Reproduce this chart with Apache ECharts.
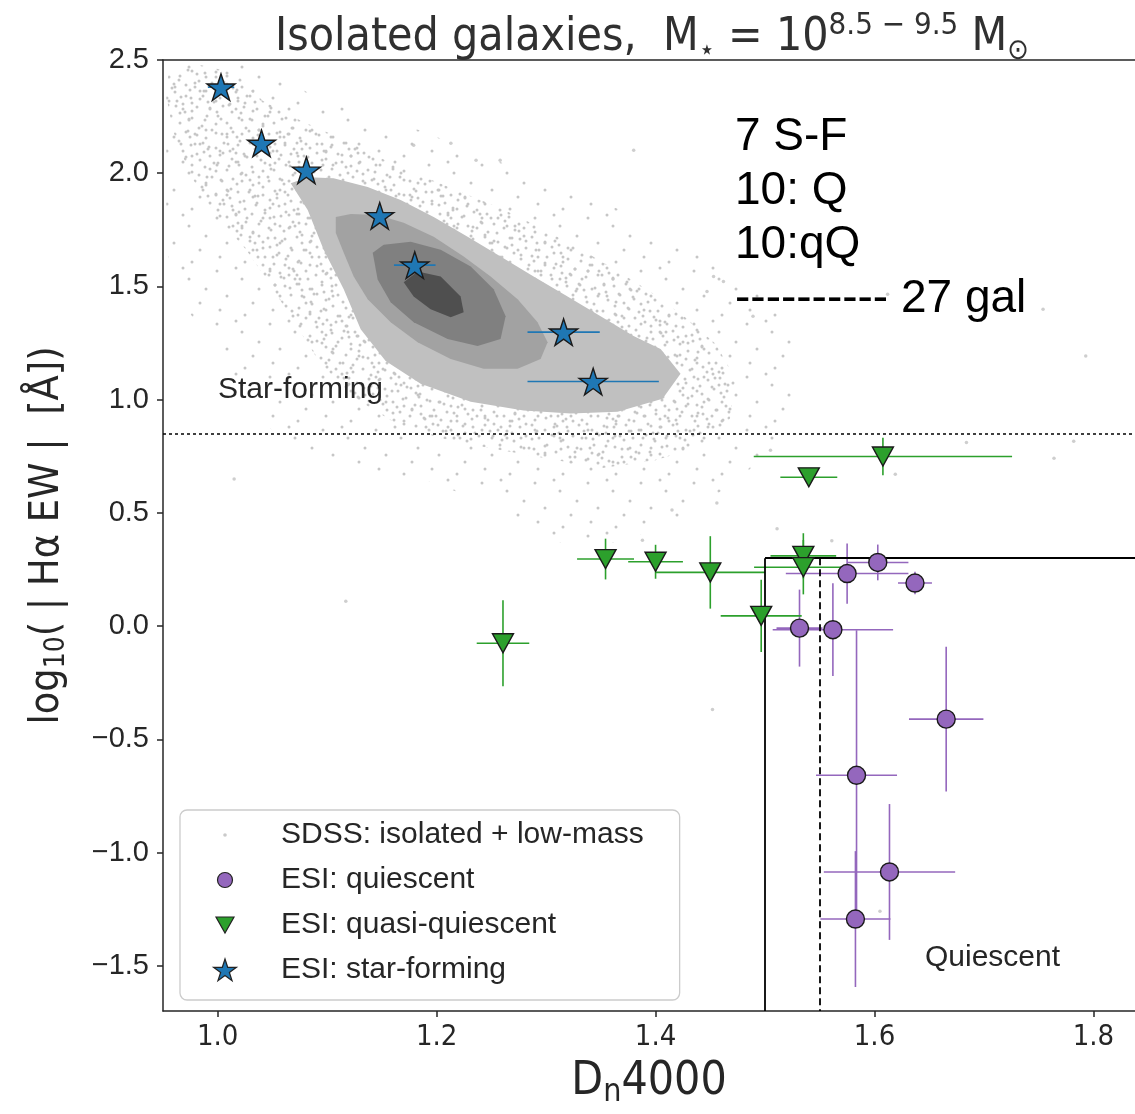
<!DOCTYPE html>
<html><head><meta charset="utf-8">
<script src="https://cdn.jsdelivr.net/npm/echarts@6/dist/echarts.min.js"></script>
<style>html,body{margin:0;padding:0;background:#fff}#c{width:1135px;height:1114px}</style>
</head><body><div id="c"></div>
<script>
// ---------------- data ----------------
const xTicks = [1.0, 1.2, 1.4, 1.6, 1.8];
const yTicks = [-1.5, -1.0, -0.5, 0.0, 0.5, 1.0, 1.5, 2.0, 2.5];
const xMin = 0.95, xMax = 1.838, yMin = -1.7, yMax = 2.5;

// ESI star-forming
const sfX    = [1.003, 1.040, 1.081, 1.148, 1.180, 1.316, 1.343];
const sfY    = [2.380, 2.132, 2.013, 1.812, 1.594, 1.298, 1.080];
const sfXerr = [0.012, 0, 0, 0, 0.019, 0.033, 0.060];
const sfYerr = [0, 0, 0, 0, 0, 0, 0];

// ESI quiescent
const qX    = [1.5315, 1.562, 1.575, 1.603, 1.637, 1.6655, 1.5836, 1.6137, 1.5826];
const qY    = [-0.009, -0.016, 0.232, 0.281, 0.190, -0.411, -0.659, -1.086, -1.294];
const qXerr = [0.021, 0.055, 0.056, 0.028, 0.0155, 0.034, 0.037, 0.060, 0.032];
const qYerr = [0.17, 0.205, 0.133, 0.079, 0.05, 0.32, 0.64, 0.30, 0.30];

// ESI quasi-quiescent
const qqX    = [1.2606, 1.3543, 1.400, 1.450, 1.4965, 1.535, 1.535, 1.540, 1.6077];
const qqY    = [-0.076, 0.296, 0.284, 0.237, 0.045, 0.310, 0.260, 0.657, 0.749];
const qqXerr = [0.024, 0.026, 0.025, 0.050, 0.037, 0.030, 0.045, 0.026, 0.118];
const qqYerr = [0.19, 0.09, 0.075, 0.16, 0.16, 0.10, 0.12, 0.0, 0.083];

// SDSS isolated low-mass: scattered outliers
const sdssX = [1.453, 1.462, 1.447, 1.489, 1.612, 1.754, 1.380, 1.213, 1.179, 1.258, 1.236, 1.764, 1.782, 1.684, 1.505, 1.619, 1.511, 1.452, 1.117, 1.015, 1.605, 1.793, 1.561, 1.388, 1.415, 1.456];
const sdssY = [1.544, 1.522, 1.478, 1.368, 1.465, 1.399, 2.101, 2.132, 2.123, 2.057, 2.057, 0.741, 0.816, 0.811, 0.776, 0.671, 0.430, -0.368, 0.110, 0.649, -1.259, 1.193, 0.377, 0.379, 0.513, 0.544];

// SDSS point-cloud envelopes (sparse and dense dot regions)
const haloSparseX = [0.953, 1.039, 1.094, 1.185, 1.277, 1.368, 1.441, 1.505, 1.532, 1.523, 1.478, 1.423, 1.368, 1.313, 1.258, 1.185, 1.112, 1.048, 1.003, 0.966, 0.953];
const haloSparseY = [2.487, 2.487, 2.320, 2.189, 2.013, 1.838, 1.662, 1.443, 1.180, 0.873, 0.654, 0.478, 0.368, 0.368, 0.522, 0.654, 0.697, 0.873, 1.180, 1.443, 1.662];
const haloDenseX = [0.955, 0.984, 1.016, 1.041, 1.076, 1.117, 1.153, 1.185, 1.222, 1.258, 1.295, 1.332, 1.363, 1.395, 1.427, 1.455, 1.473, 1.468, 1.441, 1.400, 1.350, 1.300, 1.249, 1.204, 1.163, 1.126, 1.094, 1.071, 1.048, 1.026, 0.998, 0.975, 0.959, 0.953];
const haloDenseY = [2.443, 2.478, 2.443, 2.320, 2.232, 2.145, 2.057, 1.991, 1.917, 1.846, 1.759, 1.662, 1.575, 1.478, 1.364, 1.246, 1.092, 0.917, 0.794, 0.732, 0.697, 0.741, 0.785, 0.829, 0.895, 1.004, 1.158, 1.333, 1.509, 1.662, 1.816, 1.991, 2.189, 2.342];

// SDSS density contours (outer -> inner)
const c1X = [1.0667, 1.0822, 1.1059, 1.1370, 1.1671, 1.1973, 1.2283, 1.2584, 1.2886, 1.3196, 1.3498, 1.3799, 1.4046, 1.4228, 1.4064, 1.3653, 1.3224, 1.2795, 1.2311, 1.1854, 1.1534, 1.1306, 1.1151, 1.0968, 1.0822];
const c1Y = [1.956, 1.982, 1.978, 1.939, 1.882, 1.807, 1.719, 1.632, 1.544, 1.456, 1.368, 1.281, 1.224, 1.114, 1.004, 0.947, 0.939, 0.952, 0.991, 1.070, 1.171, 1.311, 1.487, 1.662, 1.838];
const c2X = [1.1078, 1.1215, 1.1461, 1.1699, 1.1973, 1.2247, 1.2493, 1.2740, 1.2922, 1.3014, 1.2950, 1.2740, 1.2429, 1.2128, 1.1826, 1.1580, 1.1370, 1.1242, 1.1151, 1.1078];
const c2Y = [1.807, 1.820, 1.816, 1.781, 1.719, 1.632, 1.544, 1.443, 1.342, 1.254, 1.180, 1.136, 1.136, 1.180, 1.254, 1.342, 1.443, 1.544, 1.649, 1.737];
const c3X = [1.1416, 1.1516, 1.1763, 1.2037, 1.2311, 1.2521, 1.2630, 1.2584, 1.2374, 1.2100, 1.1790, 1.1580, 1.1461];
const c3Y = [1.649, 1.684, 1.697, 1.662, 1.588, 1.487, 1.368, 1.268, 1.237, 1.268, 1.342, 1.430, 1.531];
const c4X = [1.1699, 1.1826, 1.2037, 1.2219, 1.2247, 1.2128, 1.1945, 1.1790];
const c4Y = [1.518, 1.566, 1.544, 1.456, 1.386, 1.364, 1.399, 1.456];

// reference lines
const sfThreshold = 0.85;        // horizontal dotted line
const qBoxX = 1.5, qBoxY = 0.3;  // quiescent box corner
const dnCut = 1.55;              // dashed vertical

// ---------------- style ----------------
const INK = '#262626';
const COL = {sf: '#1f77b4', q: '#9467bd', qq: '#2ca02c', sdss: '#c2c2c2'};
const COND = '"DejaVu Sans Condensed", "DejaVu Sans", sans-serif';
const ARIAL = '"Liberation Sans", Arial, sans-serif';
const STAR = 'path://M50,0L61.23,34.55L97.55,34.55L68.16,55.9L79.39,90.45L50,69.1L20.61,90.45L31.84,55.9L2.45,34.55L38.77,34.55Z';

// stipple textures standing in for the thousands of SDSS dots
function dotPattern(size, pts, r, color) {
  const cv = document.createElement('canvas');
  cv.width = size; cv.height = size;
  const ctx = cv.getContext('2d');
  ctx.fillStyle = color;
  pts.forEach(p => { ctx.beginPath(); ctx.arc(p[0], p[1], r, 0, Math.PI * 2); ctx.fill(); });
  return {image: cv, repeat: 'repeat'};
}
const densePatA = dotPattern(47, [[3,4],[15,2],[28,7],[40,3],[9,13],[22,15],[35,12],[44,18],[4,24],[17,26],[30,22],[39,29],[11,34],[24,36],[34,40],[45,38],[2,43],[18,44],[28,30],[7,40],[42,10],[20,8]], 1.5, '#c6c6c6');
const densePatB = dotPattern(61, [[5,9],[19,4],[33,11],[48,6],[57,19],[12,22],[26,25],[41,21],[53,31],[3,35],[17,38],[31,41],[46,44],[58,52],[9,50],[24,55],[38,58],[50,27],[14,13],[37,33],[27,47],[44,12],[6,58],[55,40],[21,30]], 1.5, '#c6c6c6');
const sparsePat = dotPattern(53, [[5,6],[30,14],[15,31],[41,38],[24,3],[8,45],[47,24],[33,50]], 1.5, '#c6c6c6');

function polySeries(xs, ys, fill, z) {
  return {
    type: 'custom', silent: true, z: z, animation: false,
    data: xs.map((x, i) => [x, ys[i]]),
    renderItem: function (params, api) {
      if (params.dataIndex !== 0) return null;
      const pts = xs.map((x, i) => api.coord([x, ys[i]]));
      return {type: 'polygon', shape: {points: pts}, style: {fill: fill}};
    }
  };
}

function errSeries(xs, ys, xe, ye, color) {
  return {
    type: 'custom', silent: true, z: 4, animation: false,
    data: xs.map((x, i) => [x, ys[i], xe[i], ye[i]]),
    encode: {x: 0, y: 1},
    renderItem: function (params, api) {
      const x = api.value(0), y = api.value(1), dx = api.value(2), dy = api.value(3);
      const ch = [];
      if (dx > 0) {
        const a = api.coord([x - dx, y]), b = api.coord([x + dx, y]);
        ch.push({type: 'line', shape: {x1: a[0], y1: a[1], x2: b[0], y2: b[1]}, style: {stroke: color, lineWidth: 1.6}});
      }
      if (dy > 0) {
        const a = api.coord([x, y + dy]), b = api.coord([x, y - dy]);
        ch.push({type: 'line', shape: {x1: a[0], y1: a[1], x2: b[0], y2: b[1]}, style: {stroke: color, lineWidth: 1.6}});
      }
      return {type: 'group', children: ch};
    }
  };
}

function svgIcon(inner) {
  return 'image://data:image/svg+xml;charset=utf-8,' + encodeURIComponent(
    "<svg xmlns='http://www.w3.org/2000/svg' width='96' height='30' viewBox='0 0 96 30'>" + inner + "</svg>");
}
const iconSdss = svgIcon("<circle cx='45' cy='15' r='1.8' fill='#bdbdbd'/>");
const iconQ = svgIcon("<circle cx='45' cy='15' r='7.5' fill='#9467bd' stroke='#222' stroke-width='1.2'/>");
const iconQQ = svgIcon("<polygon points='36,7 54,7 45,23' fill='#2ca02c' stroke='#222' stroke-width='1.2'/>");
const iconSF = svgIcon("<polygon points='45,4 47.69,12.29 56.41,12.29 49.36,17.42 52.05,25.71 45,20.58 37.95,25.71 40.64,17.42 33.59,12.29 42.31,12.29' fill='#1f77b4' stroke='#222' stroke-width='1.2'/>");

const axisLineStyle = {color: INK, width: 1.5};

const option = {
  animation: false,
  backgroundColor: '#fff',
  title: {
    text: '{a|Isolated galaxies,  M}{s|⋆}{a| = 10}{p|8.5 − 9.5}{a| M}{s|⊙}',
    left: 647, top: 5, textAlign: 'center',
    textStyle: {
      fontWeight: 'normal',
      rich: {
        a: {fontFamily: COND, fontWeight: 'normal', fontSize: 46, color: '#303030', lineHeight: 56, verticalAlign: 'middle'},
        s: {fontFamily: COND, fontWeight: 'normal', fontSize: 29, color: '#303030', lineHeight: 29, verticalAlign: 'bottom'},
        p: {fontFamily: COND, fontWeight: 'normal', fontSize: 31, color: '#303030', lineHeight: 31, verticalAlign: 'top'}
      }
    }
  },
  grid: {left: 163, top: 60, right: 0, bottom: 97, containLabel: false},
  legend: {
    orient: 'vertical', left: 180, top: 810,
    padding: [10, 36, 15, 0],
    itemWidth: 96, itemHeight: 30, itemGap: 15,
    backgroundColor: 'rgba(255,255,255,0.85)',
    borderColor: '#cccccc', borderWidth: 1.3, borderRadius: 7,
    textStyle: {fontFamily: ARIAL, fontSize: 30, color: INK, lineHeight: 30},
    data: [
      {name: 'SDSS: isolated + low-mass', icon: iconSdss},
      {name: 'ESI: quiescent', icon: iconQ},
      {name: 'ESI: quasi-quiescent', icon: iconQQ},
      {name: 'ESI: star-forming', icon: iconSF}
    ]
  },
  xAxis: [{
    type: 'value', min: xMin, max: xMax, position: 'bottom',
    axisLine: {show: true, onZero: false, lineStyle: axisLineStyle},
    axisTick: {show: true, customValues: xTicks, length: 6, lineStyle: axisLineStyle},
    axisLabel: {customValues: xTicks, formatter: v => v.toFixed(1), fontFamily: COND, fontSize: 29, color: INK, margin: 12},
    splitLine: {show: false},
    name: '{a|D}{s|n}{a|4000}', nameLocation: 'middle', nameGap: 44,
    nameTextStyle: {rich: {
      a: {fontFamily: COND, fontSize: 46, color: INK, lineHeight: 54, verticalAlign: 'middle'},
      s: {fontFamily: COND, fontSize: 32, color: INK, lineHeight: 30, verticalAlign: 'bottom'}
    }}
  }, {
    type: 'value', min: xMin, max: xMax, position: 'top',
    axisLine: {show: true, onZero: false, lineStyle: axisLineStyle},
    axisTick: {show: false}, axisLabel: {show: false}, splitLine: {show: false}
  }],
  yAxis: {
    type: 'value', min: yMin, max: yMax,
    axisLine: {show: true, onZero: false, lineStyle: axisLineStyle},
    axisTick: {show: true, customValues: yTicks, length: 6, lineStyle: axisLineStyle},
    axisLabel: {customValues: yTicks, formatter: v => (v < 0 ? '\u2212' : '') + Math.abs(v).toFixed(1), fontFamily: ARIAL, fontSize: 29, color: INK, margin: 14},
    splitLine: {show: false},
    name: '{a|log}{s|10}{a|( | Hα EW |  [Å])}', nameLocation: 'middle', nameGap: 92, nameRotate: 90,
    nameTextStyle: {rich: {
      a: {fontFamily: COND, fontSize: 41, color: INK, lineHeight: 48, verticalAlign: 'middle'},
      s: {fontFamily: COND, fontSize: 28, color: INK, lineHeight: 26, verticalAlign: 'bottom'}
    }}
  },
  graphic: [
    {type: 'text', left: 735, top: 110, z: 20, style: {text: '7 S-F\n10: Q\n10:qQ\n---------- 27 gal', fontFamily: ARIAL, fontSize: 46, lineHeight: 54, fill: '#000'}},
    {type: 'text', left: 218, top: 375, z: 20, style: {text: 'Star-forming', fontFamily: ARIAL, fontSize: 30, fill: INK}},
    {type: 'text', left: 925, top: 943, z: 20, style: {text: 'Quiescent', fontFamily: ARIAL, fontSize: 30, fill: INK}}
  ],
  series: [
    polySeries(haloSparseX, haloSparseY, sparsePat, 1),
    polySeries(haloDenseX, haloDenseY, densePatA, 1),
    polySeries(haloDenseX, haloDenseY, densePatB, 1),
    polySeries(c1X, c1Y, '#c0c0c0', 2),
    polySeries(c2X, c2Y, '#a2a2a2', 2),
    polySeries(c3X, c3Y, '#808080', 2),
    polySeries(c4X, c4Y, '#4f4f4f', 2),
    {
      name: 'SDSS: isolated + low-mass', type: 'scatter', z: 2, silent: true,
      symbol: 'circle', symbolSize: 3.5, itemStyle: {color: COL.sdss},
      data: sdssX.map((x, i) => [x, sdssY[i]])
    },
    {
      type: 'line', data: [], z: 3, silent: true,
      markLine: {
        silent: true, symbol: ['none', 'none'], label: {show: false}, animation: false,
        data: [
          {yAxis: sfThreshold, lineStyle: {type: [3, 3], color: '#000', width: 1.5}},
          [{coord: [qBoxX, qBoxY], lineStyle: {type: 'solid', color: '#000', width: 1.8}}, {coord: [qBoxX, yMin]}],
          [{coord: [qBoxX, qBoxY], lineStyle: {type: 'solid', color: '#000', width: 1.8}}, {coord: [xMax, qBoxY]}],
          [{coord: [dnCut, qBoxY], lineStyle: {type: [7, 4], color: '#000', width: 1.8}}, {coord: [dnCut, yMin]}]
        ]
      }
    },
    errSeries(qX, qY, qXerr, qYerr, COL.q),
    errSeries(qqX, qqY, qqXerr, qqYerr, COL.qq),
    errSeries(sfX, sfY, sfXerr, sfYerr, COL.sf),
    {
      name: 'ESI: quiescent', type: 'scatter', z: 5,
      symbol: 'circle', symbolSize: 18,
      itemStyle: {color: COL.q, borderColor: '#1a1a1a', borderWidth: 1.4, opacity: 1},
      data: qX.map((x, i) => [x, qY[i]])
    },
    {
      name: 'ESI: quasi-quiescent', type: 'scatter', z: 5,
      symbol: 'triangle', symbolRotate: 180, symbolSize: [21, 19],
      itemStyle: {color: COL.qq, borderColor: '#1a1a1a', borderWidth: 1.4, opacity: 1},
      data: qqX.map((x, i) => [x, qqY[i]])
    },
    {
      name: 'ESI: star-forming', type: 'scatter', z: 5,
      symbol: STAR, symbolSize: 28, symbolKeepAspect: true,
      itemStyle: {color: COL.sf, borderColor: '#1a1a1a', borderWidth: 1.4, opacity: 1},
      data: sfX.map((x, i) => [x, sfY[i]])
    }
  ]
};

const chart = echarts.init(document.getElementById('c'), null, {renderer: 'canvas'});
chart.setOption(option);
</script></body></html>
